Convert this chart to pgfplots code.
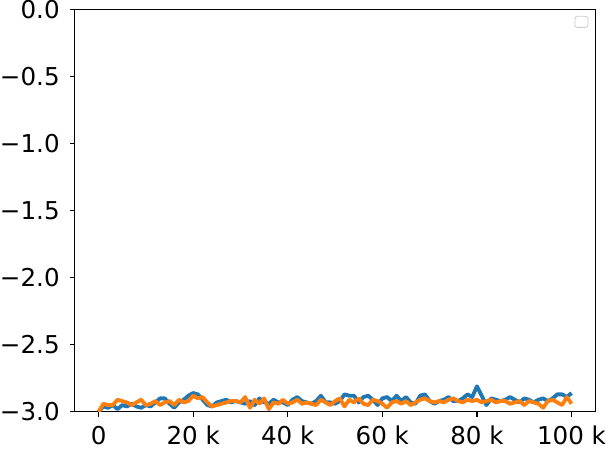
\documentclass[border=0pt]{standalone}
\usepackage{pgfplots}
\pgfplotsset{compat=1.18}
\usepackage{fontspec}
\setmainfont{DejaVu Sans}
\definecolor{mplblue}{HTML}{1F77B4}
\definecolor{mplorange}{HTML}{FF7F0E}

\pgfplotstableread{
x blue orange
0 -3.00 -3.00
1000 -2.96 -2.94
2000 -2.97 -2.95
3000 -2.95 -2.95
4000 -2.98 -2.91
5000 -2.95 -2.92
6000 -2.96 -2.93
7000 -2.94 -2.95
8000 -2.96 -2.93
9000 -2.97 -2.91
10000 -2.95 -2.95
11000 -2.96 -2.94
12000 -2.93 -2.92
13000 -2.90 -2.95
14000 -2.90 -2.93
15000 -2.94 -2.92
16000 -2.97 -2.95
17000 -2.93 -2.91
18000 -2.91 -2.93
19000 -2.88 -2.92
20000 -2.86 -2.88
21000 -2.87 -2.90
22000 -2.91 -2.89
23000 -2.95 -2.93
24000 -2.96 -2.96
25000 -2.93 -2.95
26000 -2.92 -2.94
27000 -2.91 -2.93
28000 -2.93 -2.92
29000 -2.92 -2.92
30000 -2.93 -2.93
31000 -2.94 -2.89
32000 -2.92 -2.97
33000 -2.95 -2.91
34000 -2.90 -2.94
35000 -2.93 -2.90
36000 -2.94 -2.98
37000 -2.91 -2.93
38000 -2.93 -2.94
39000 -2.93 -2.91
40000 -2.95 -2.94
41000 -2.91 -2.93
42000 -2.89 -2.91
43000 -2.92 -2.94
44000 -2.93 -2.93
45000 -2.94 -2.94
46000 -2.92 -2.95
47000 -2.88 -2.91
48000 -2.93 -2.93
49000 -2.93 -2.95
50000 -2.94 -2.92
51000 -2.92 -2.90
52000 -2.87 -2.96
53000 -2.88 -2.91
54000 -2.88 -2.93
55000 -2.93 -2.90
56000 -2.89 -2.94
57000 -2.88 -2.95
58000 -2.91 -2.91
59000 -2.95 -2.92
60000 -2.90 -2.94
61000 -2.89 -2.97
62000 -2.92 -2.93
63000 -2.88 -2.92
64000 -2.92 -2.94
65000 -2.89 -2.92
66000 -2.93 -2.95
67000 -2.94 -2.93
68000 -2.88 -2.91
69000 -2.87 -2.90
70000 -2.92 -2.92
71000 -2.94 -2.93
72000 -2.92 -2.92
73000 -2.91 -2.93
74000 -2.89 -2.91
75000 -2.92 -2.90
76000 -2.92 -2.92
77000 -2.90 -2.93
78000 -2.87 -2.91
79000 -2.89 -2.92
80000 -2.81 -2.91
81000 -2.88 -2.93
82000 -2.95 -2.92
83000 -2.90 -2.91
84000 -2.91 -2.93
85000 -2.92 -2.92
86000 -2.91 -2.92
87000 -2.89 -2.94
88000 -2.91 -2.93
89000 -2.93 -2.92
90000 -2.90 -2.95
91000 -2.91 -2.92
92000 -2.93 -2.93
93000 -2.91 -2.94
94000 -2.90 -2.97
95000 -2.92 -2.92
96000 -2.90 -2.91
97000 -2.87 -2.93
98000 -2.87 -2.95
99000 -2.89 -2.89
100000 -2.86 -2.94
}\runs

\begin{document}
\begin{tikzpicture}[x=1bp,y=1bp]
\begin{axis}[
  scale only axis,
  width=517bp,
  height=400bp,
  xmin=-5000, xmax=105000,
  ymin=-3, ymax=0,
  xtick={0,20000,40000,60000,80000,100000},
  xticklabels={0,20 k,40 k,60 k,80 k,100 k},
  ytick={-3,-2.5,-2,-1.5,-1,-0.5,0},
  yticklabels={−3.0,−2.5,−2.0,−1.5,−1.0,−0.5,0.0},
  scaled x ticks=false,
  tick align=outside,
  tick pos=left,
  major tick length=5bp,
  tick style={black, line width=1.1bp},
  axis line style={line width=1.1bp},
  tick label style={font=\fontsize{24.5}{24.5}\selectfont, inner sep=0pt},
  xticklabel style={yshift=-9bp, text depth=6bp},
  yticklabel style={xshift=-10bp},
  clip=true,
]
\addplot[mplblue, line width=3.8bp, line join=round] table[x=x, y=blue] {\runs};
\addplot[mplorange, line width=3.8bp, line join=round] table[x=x, y=orange] {\runs};
% empty legend frame, as matplotlib draws it
\draw[black!20, fill=white, line width=0.8bp, rounded corners=2.5bp]
  (rel axis cs:0.961,0.9825) rectangle (rel axis cs:0.986,0.955);
\path (rel axis cs:0,0) ++(-75bp,0);
\end{axis}
\end{tikzpicture}
\end{document}
